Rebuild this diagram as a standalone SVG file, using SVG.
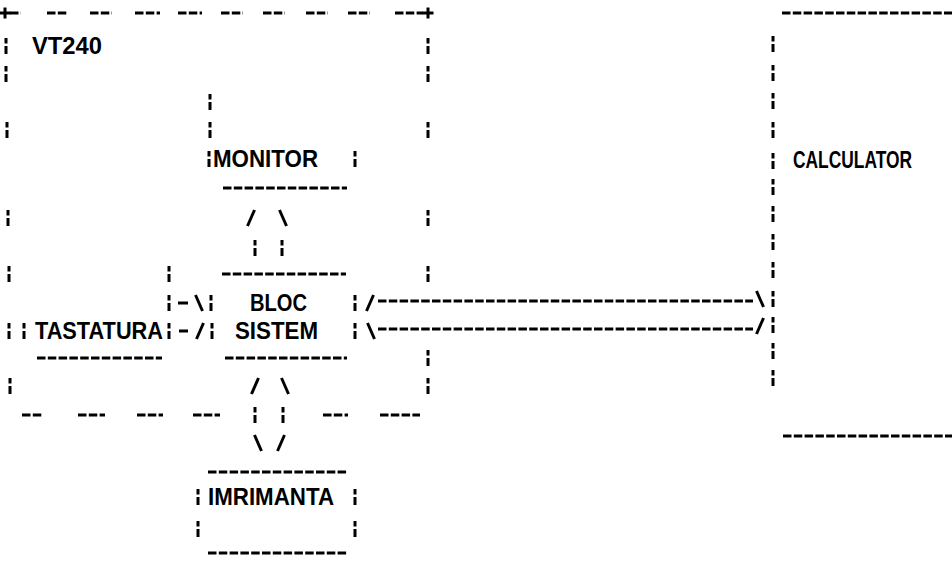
<svg xmlns="http://www.w3.org/2000/svg" xmlns:xlink="http://www.w3.org/1999/xlink" width="952" height="563" viewBox="0 0 952 563">
<style>
.s{stroke:#000;stroke-width:3;fill:none;stroke-linecap:butt}
.h{stroke:#000;stroke-width:3;fill:none;stroke-dasharray:8.5 2.3}
.t{font-family:"Liberation Sans",Arial,sans-serif;font-weight:bold;font-size:23px;fill:#000}
</style>
<defs>
<path id="c" d="M0,-8V-2.5M0,0V8"/>
<path id="fs" d="M-3.5,8L3.5,-8"/>
<path id="bs" d="M-3.5,-8L3.5,8"/>
<path id="pl" d="M-5.5,0H5.5M0,-5.5V5.5"/>
</defs>
<rect width="952" height="563" fill="#fff"/>

<g id="vt240" class="s">
<use xlink:href="#pl" x="5" y="13"/>
<use xlink:href="#pl" x="428" y="13"/>
<path class="h" d="M10,13H21M47,13H68M90,13H112M135,13H160M178,13H202M221,13H243M263,13H285M306,13H328M348,13H370M395,13H423"/>
<use xlink:href="#c" x="6" y="46"/>
<use xlink:href="#c" x="6" y="74"/>
<use xlink:href="#c" x="7" y="130"/>
<use xlink:href="#c" x="8" y="218"/>
<use xlink:href="#c" x="9" y="274"/>
<use xlink:href="#c" x="9" y="331"/>
<use xlink:href="#c" x="10" y="386"/>
<use xlink:href="#c" x="428" y="46"/>
<use xlink:href="#c" x="428" y="74"/>
<use xlink:href="#c" x="428" y="130"/>
<use xlink:href="#c" x="428" y="218"/>
<use xlink:href="#c" x="428" y="274"/>
<use xlink:href="#c" x="428" y="358"/>
<use xlink:href="#c" x="428" y="386"/>
<path class="h" d="M22,415H43M78,415H105M137,415H163M193,415H220M323,415H348M380,415H420"/>
<text class="t" x="32" y="54" stroke="none" textLength="70" lengthAdjust="spacingAndGlyphs">VT240</text>
</g>

<g id="monitor" class="s">
<use xlink:href="#c" x="210" y="102"/>
<use xlink:href="#c" x="210" y="130"/>
<use xlink:href="#c" x="209" y="159"/>
<use xlink:href="#c" x="355" y="159"/>
<text class="t" x="213" y="167" stroke="none" textLength="105" lengthAdjust="spacingAndGlyphs">MONITOR</text>
<path class="h" d="M223,188H347"/>
</g>

<g id="bloc" class="s">
<path class="h" d="M222,274H346"/>
<use xlink:href="#c" x="211" y="303"/>
<use xlink:href="#c" x="212" y="331"/>
<use xlink:href="#c" x="355" y="303"/>
<use xlink:href="#c" x="355" y="331"/>
<text class="t" x="250" y="311" stroke="none" textLength="57" lengthAdjust="spacingAndGlyphs">BLOC</text>
<text class="t" x="235" y="339" stroke="none" textLength="83" lengthAdjust="spacingAndGlyphs">SISTEM</text>
<path class="h" d="M225,358H347"/>
</g>

<g id="tastatura" class="s">
<use xlink:href="#c" x="169" y="274"/>
<use xlink:href="#c" x="169" y="303"/>
<use xlink:href="#c" x="169" y="331"/>
<use xlink:href="#c" x="24" y="331"/>
<text class="t" x="35" y="339" stroke="none" textLength="128" lengthAdjust="spacingAndGlyphs">TASTATURA</text>
<path class="h" d="M37,358H162"/>
</g>

<g id="imprimanta" class="s">
<path class="h" d="M208,472H347"/>
<use xlink:href="#c" x="198" y="497"/>
<use xlink:href="#c" x="198" y="529"/>
<use xlink:href="#c" x="355" y="497"/>
<use xlink:href="#c" x="355" y="529"/>
<text class="t" x="208" y="505" stroke="none" textLength="126" lengthAdjust="spacingAndGlyphs">IMRIMANTA</text>
<path class="h" d="M208,553H347"/>
</g>

<g id="calculator" class="s">
<path class="h" d="M782,13H952"/>
<use xlink:href="#c" x="773" y="44"/>
<use xlink:href="#c" x="773" y="73"/>
<use xlink:href="#c" x="773" y="101"/>
<use xlink:href="#c" x="773" y="130"/>
<use xlink:href="#c" x="773" y="161"/>
<use xlink:href="#c" x="773" y="187"/>
<use xlink:href="#c" x="773" y="214"/>
<use xlink:href="#c" x="773" y="242"/>
<use xlink:href="#c" x="773" y="270"/>
<use xlink:href="#c" x="773" y="299"/>
<use xlink:href="#c" x="773" y="325"/>
<use xlink:href="#c" x="773" y="351"/>
<use xlink:href="#c" x="773" y="378"/>
<text class="t" x="793" y="168" stroke="none" textLength="119" lengthAdjust="spacingAndGlyphs">CALCULATOR</text>
<path class="h" d="M783,436H952"/>
</g>

<g id="connectors" class="s">
<!-- monitor <-> bloc -->
<use xlink:href="#fs" x="251" y="218"/>
<use xlink:href="#bs" x="283" y="218"/>
<use xlink:href="#c" x="255" y="248"/>
<use xlink:href="#c" x="282" y="248"/>
<!-- tastatura -> bloc -->
<path d="M178,303H188M179,331H188"/>
<use xlink:href="#bs" x="199" y="303"/>
<use xlink:href="#fs" x="200" y="331"/>
<!-- bloc <-> calculator -->
<use xlink:href="#fs" x="370" y="303"/>
<use xlink:href="#bs" x="371" y="331"/>
<path class="h" d="M378,301H753M378,329H753"/>
<use xlink:href="#bs" x="760" y="299"/>
<use xlink:href="#fs" x="760" y="326"/>
<!-- bloc -> imprimanta -->
<use xlink:href="#fs" x="255" y="386"/>
<use xlink:href="#bs" x="285" y="386"/>
<use xlink:href="#c" x="255" y="415"/>
<use xlink:href="#c" x="283" y="415"/>
<use xlink:href="#bs" x="258" y="443"/>
<use xlink:href="#fs" x="281" y="443"/>
</g>
</svg>
